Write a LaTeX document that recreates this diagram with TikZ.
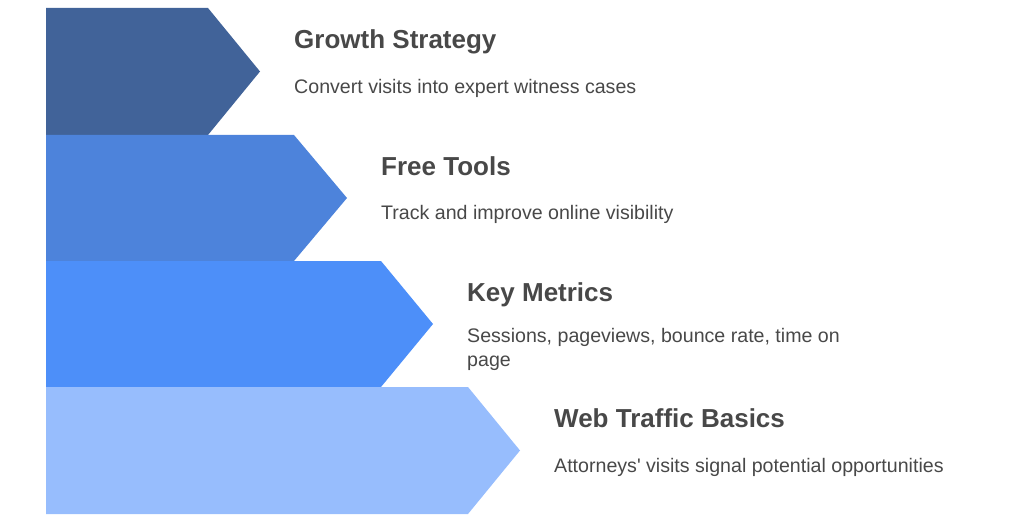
\documentclass[tikz,border=0pt]{standalone}
\usepackage{fontspec}
\setmainfont{Liberation Sans}
\usetikzlibrary{calc}
\definecolor{layerA}{RGB}{65,99,153}
\definecolor{layerB}{RGB}{77,131,219}
\definecolor{layerC}{RGB}{77,143,249}
\definecolor{layerD}{RGB}{151,189,253}
\definecolor{txt}{RGB}{72,72,72}
\begin{document}
\begin{tikzpicture}[x=1pt,y=-1pt,
  title/.style={anchor=base west,inner sep=0pt,text=txt,font=\fontsize{26}{30}\selectfont\bfseries},
  body/.style={anchor=base west,inner sep=0pt,text=txt,font=\fontsize{19.6}{24}\selectfont}]
\useasboundingbox (0,0) rectangle (1024,521);
\fill [layerA] (46,8) -- (208,8) -- (260,71.5) -- (208,135) -- (46,135) -- cycle;
\fill [layerB] (46,135) -- (294,135) -- (347,198) -- (294,261) -- (46,261) -- cycle;
\fill [layerC] (46,261) -- (381,261) -- (433,324) -- (381,387) -- (46,387) -- cycle;
\fill [layerD] (46,387) -- (468,387) -- (520,450.5) -- (468,514) -- (46,514) -- cycle;
\node [title] (growth) at (294,49) {Growth Strategy};
\node [body] (growthtext) at (294,93.5) {Convert visits into expert witness cases};
\node [title] (tools) at (381,175.5) {Free Tools};
\node [body] (toolstext) at (381,220) {Track and improve online visibility};
\node [title] (metrics) at (467,301.5) {Key Metrics};
\node [body] (metricstext) at (467,342) {\begin{tabular}[t]{@{}l@{}}Sessions, pageviews, bounce rate, time on\\page\end{tabular}};
\node [title] (basics) at (554,427.5) {Web Traffic Basics};
\node [body] (basicstext) at (554,472) {Attorneys\textquotesingle\ visits signal potential opportunities};
\end{tikzpicture}
\end{document}
